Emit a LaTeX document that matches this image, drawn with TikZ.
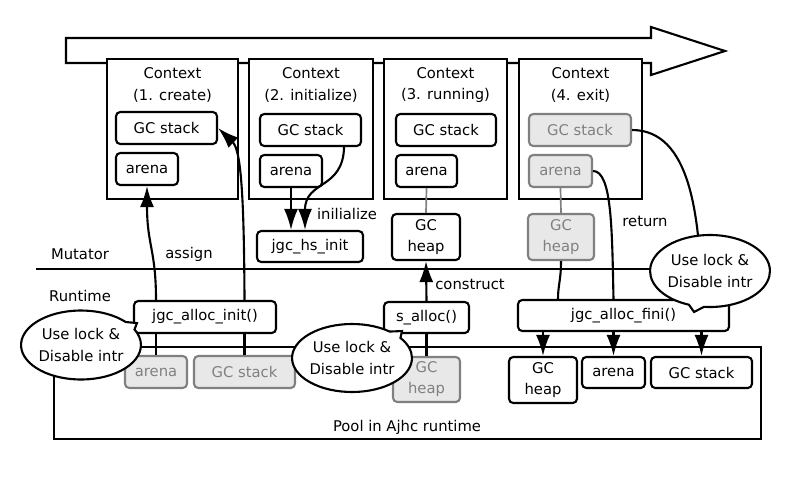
\documentclass[tikz,border=0pt]{standalone}
\usepackage{fontspec}
\setmainfont{DejaVu Sans}
\tikzset{box/.style = {draw, line width=1.5pt, rounded corners=3pt, fill=white, inner sep=0pt, align=center}}
\tikzset{ghost/.style = {box, draw=gray, fill=gray!18, text=gray}}
\tikzset{ctx/.style = {draw, line width=1.5pt, fill=white, inner sep=0pt}}
\tikzset{sz/.style 2 args = {minimum width=#1*0.025cm, minimum height=#2*0.025cm}}
\tikzset{bubble/.style = {ellipse callout, draw, line width=1.5pt, fill=white, align=center, inner sep=0pt}}
\tikzset{arr/.style = {line width=1.5pt, -{Latex[length=15pt,width=10pt]}}}
\usetikzlibrary{calc,arrows.meta,shapes.callouts}

\begin{document}
\begin{tikzpicture}[x=0.025cm, y=-0.025cm, font=\fontsize{10.5}{15}\selectfont]
      \useasboundingbox (0,0) rectangle (800,480);
      \draw[line width=1.5pt] (66,38) -- (651,38) -- (651,27) -- (725,51) -- (651,75) -- (651,63) -- (66,63) -- cycle;
      \draw[line width=1.5pt] (36,269) -- (700,269);
      \node (lmutator) at (80,254) {Mutator};
      \node (lruntime) at (80,296) {Runtime};

      \node[ctx, sz={131}{140}] (c1) at (172.5,129) {};
      \node[ctx, sz={124}{140}] (c2) at (311,129) {};
      \node[ctx, sz={123}{140}] (c3) at (445.5,129) {};
      \node[ctx, sz={123}{140}] (c4) at (580.5,129) {};
      \node[align=center] (t1) at (172.5,85) {Context\\(1. create)};
      \node[align=center] (t2) at (311,85) {Context\\(2. initialize)};
      \node[align=center] (t3) at (445.5,85) {Context\\(3. running)};
      \node[align=center] (t4) at (580.5,85) {Context\\(4. exit)};

      \node[box, sz={101}{32}] (gs1) at (166.5,128) {GC stack};
      \node[box, sz={62}{32}] (ar1) at (147,169) {arena};
      \node[box, sz={101}{32}] (gs2) at (310.5,130) {GC stack};
      \node[box, sz={62}{32}] (ar2) at (291,171) {arena};
      \node[box, sz={100}{32}] (gs3) at (446,130) {GC stack};
      \node[box, sz={61}{32}] (ar3) at (426.5,171) {arena};
      \node[ghost, sz={102}{32}] (gs4) at (580,130) {GC stack};
      \node[ghost, sz={63}{32}] (ar4) at (560.5,171) {arena};

      \node[box, sz={106}{31}] (hs) at (310,246.5) {jgc\_hs\_init};
      \node[box, sz={68}{46}] (heap3) at (426,237) {GC\\heap};
      \node[ghost, sz={66}{46}] (heap4) at (561,237) {GC\\heap};

      \node[box, sz={142}{32}] (init) at (205,317) {jgc\_alloc\_init()};
      \node[box, sz={85}{31}] (salloc) at (426.5,317.5) {s\_alloc()};
      \node[box, sz={211}{31}] (fini) at (623.5,315.5) {jgc\_alloc\_fini()};

      \draw[line width=1.5pt] (54,347) rectangle (761,439);
      \node (lpool) at (407,427) {Pool in Ajhc runtime};
      \node[ghost, sz={62}{32}] (par) at (156,372) {arena};
      \node[ghost, sz={101}{32}] (pgs) at (244.5,372) {GC stack};
      \node[ghost, sz={67}{45}] (pheap) at (426.5,379.5) {GC\\heap};
      \node[box, sz={68}{46}] (rheap) at (543,380) {GC\\heap};
      \node[box, sz={63}{31}] (rar) at (613.5,372.5) {arena};
      \node[box, sz={101}{31}] (rgs) at (701.5,372.5) {GC stack};

      \draw[line width=1.5pt] (par.north) -- (par.north |- init.south);
      \draw[line width=1.5pt] (pgs.north) -- (pgs.north |- init.south);
      \draw[arr] (par.north |- init.north) .. controls (156,250) and (147,245) .. (ar1.south);
      \draw[arr] (pgs.north |- init.north) .. controls (244,195) and (241,150) .. (gs1.east);
      \node (lassign) at (189,254) {assign};

      \draw[arr] (ar2.south) -- (ar2.south |- hs.north);
      \draw[arr] ($(gs2.south east)+(-18,0)$) .. controls (343,190) and (305,180) .. ($(hs.north)+(-5,0)$);
      \node (linit) at (347,214) {inilialize};

      \draw[gray, line width=1.2pt] (ar3.south) -- (heap3.north);
      \draw[arr] (salloc.north) -- (heap3.south);
      \draw[line width=1.5pt] (salloc.south) -- (pheap.north);
      \node (lconstruct) at (470,284) {construct};

      \draw[gray, line width=1.2pt] (ar4.south) -- (heap4.north);
      \draw[line width=1.5pt] (heap4.south) .. controls (561,280) and (558,285) .. ($(fini.north -| heap4.south)+(-3,0)$);
      \draw[line width=1.5pt] (ar4.east) .. controls (612,171) and (612,230) .. (fini.north -| rar.north);
      \draw[line width=1.5pt] (gs4.east) .. controls (690,130) and (700,215) .. (fini.north -| rgs.north);
      \node (lreturn) at (645,221) {return};

      \draw[arr] (fini.south -| rheap.north) -- (rheap.north);
      \draw[arr] (fini.south -| rar.north) -- (rar.north);
      \draw[arr] (fini.south -| rgs.north) -- (rgs.north);

      \node[bubble, sz={108}{69}, callout absolute pointer={($(init.south west)+(4,-11)$)}] (b1) at (81,345) {Use lock \&\\Disable intr};
      \node[bubble, sz={107}{68}, callout absolute pointer={($(salloc.south west)+(19,-3)$)}] (b2) at (352,358) {Use lock \&\\Disable intr};
      \node[bubble, sz={107}{72}, callout absolute pointer={($(fini.north east)+(-36,13)$)}] (b3) at (710,271) {Use lock \&\\Disable intr};
    \end{tikzpicture}
\end{document}
